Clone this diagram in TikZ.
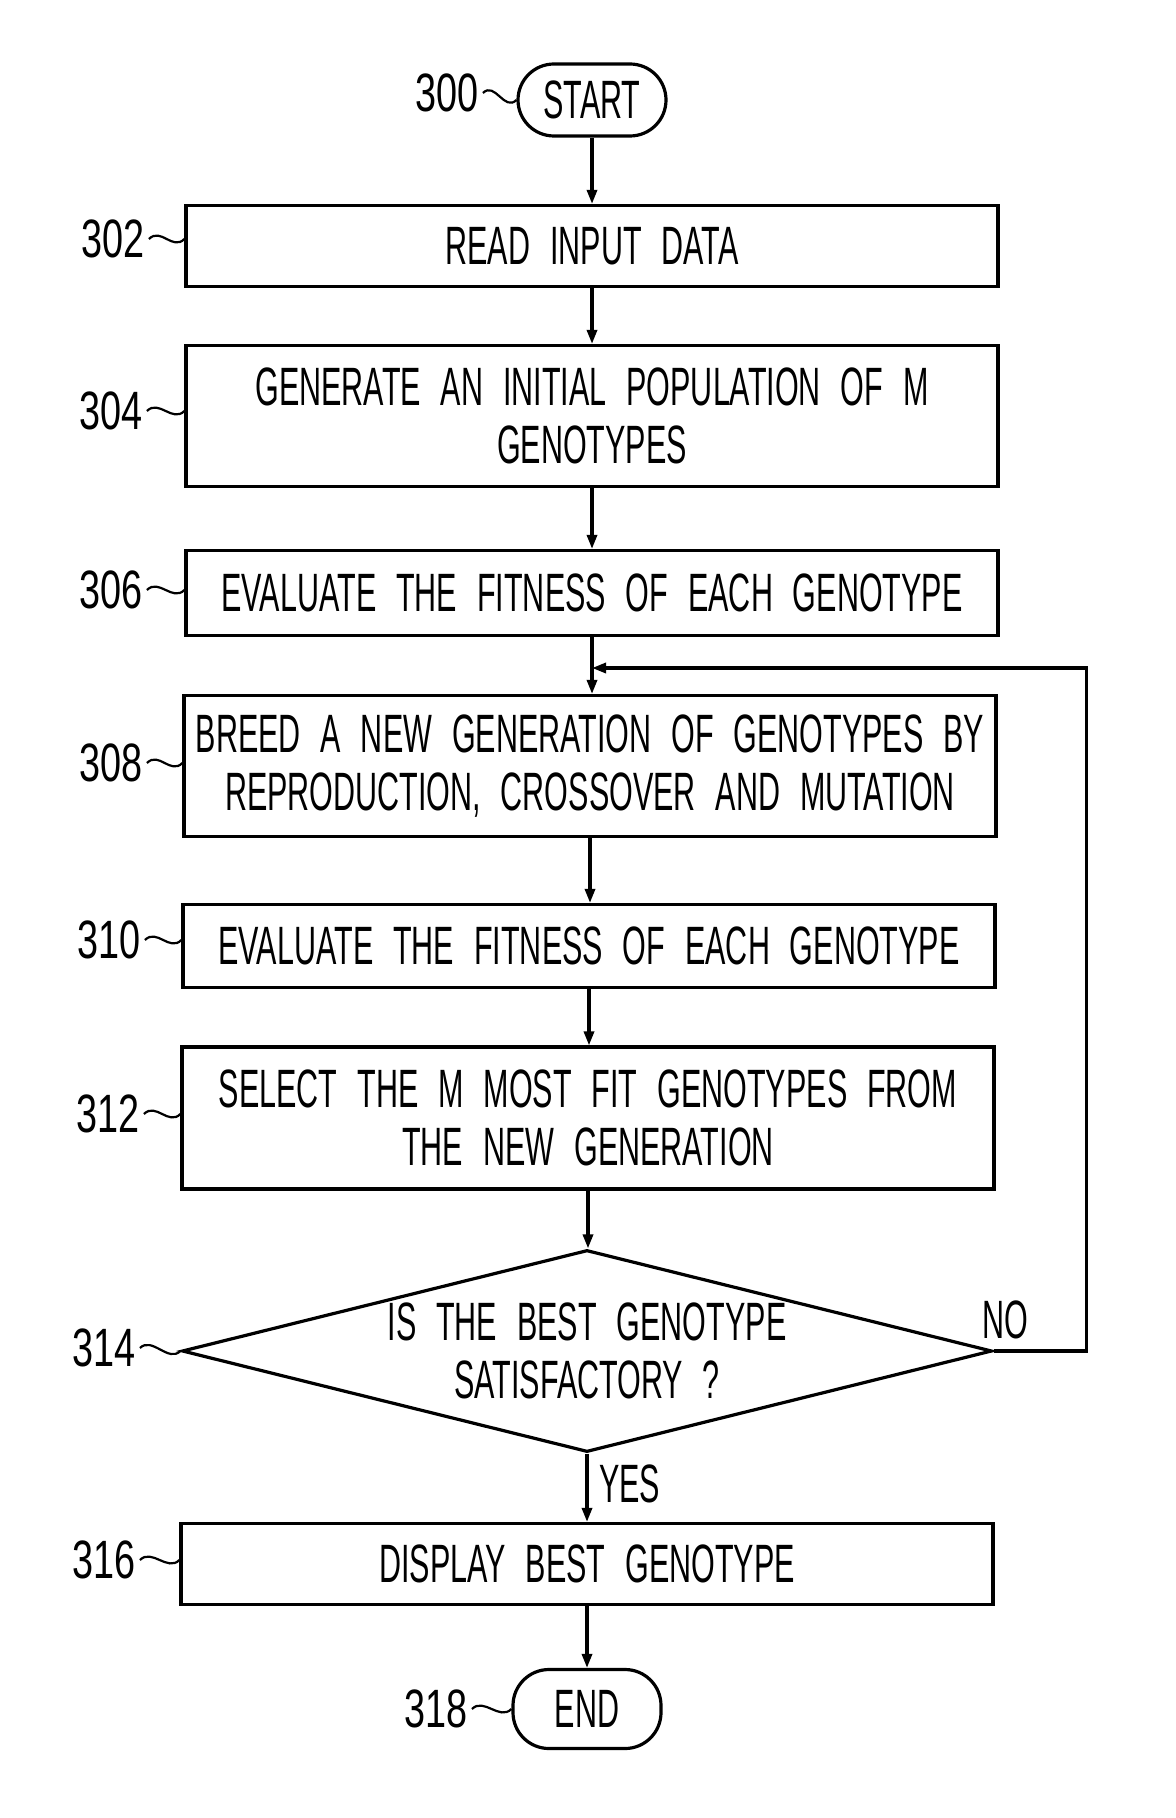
\documentclass[tikz,border=0pt]{standalone}
\usepackage{fontspec}
\setmainfont{Liberation Sans}[FakeStretch=0.565,WordSpace=2.35]
\newfontfamily\numfont{Liberation Sans}[FakeStretch=0.7]
\usetikzlibrary{shapes.geometric,arrows.meta,calc}

% squiggle from a reference number to its shape
\newcommand{\refmark}[2]{\draw[squig] (#1.east) .. controls ($(#1.east)+(12,-12)$) and ($(#2)+(-12,12)$) .. (#2);}

\begin{document}
\begin{tikzpicture}[x=0.5pt,y=-0.5pt,
    every node/.style={font=\fontsize{27}{29}\selectfont},
    box/.style={draw,line width=1.6pt,minimum width=406pt,inner sep=0pt,align=center},
    term/.style={draw,line width=1.6pt,rounded corners=18pt,minimum width=74pt,inner sep=0pt},
    dec/.style={draw,diamond,aspect=4,line width=1.6pt,minimum width=405pt,minimum height=101pt,inner sep=0pt,align=center},
    refnum/.style={inner sep=2pt,font=\fontsize{27}{29}\numfont},
    flow/.style={line width=1.6pt,-{Triangle[length=7pt,width=5pt]}},
    squig/.style={line width=1.1pt}]
  \useasboundingbox (0,0) rectangle (1175,1818);

  % steps
  \node[term,minimum height=36pt] (start) at (592,100) {START};
  \node[box,minimum height=40.5pt] (read) at (592,246) {READ INPUT DATA};
  \node[box,minimum height=70.5pt] (init) at (592,416) {GENERATE AN INITIAL POPULATION OF M\\GENOTYPES};
  \node[box,minimum height=42.5pt] (evalA) at (592,593) {EVALUATE THE FITNESS OF EACH GENOTYPE};
  \node[box,minimum height=70.5pt] (breed) at (590,766) {BREED A NEW GENERATION OF GENOTYPES BY\\REPRODUCTION, CROSSOVER AND MUTATION};
  \node[box,minimum height=41.5pt] (evalB) at (589,946) {EVALUATE THE FITNESS OF EACH GENOTYPE};
  \node[box,minimum height=71pt] (select) at (588,1118) {SELECT THE M MOST FIT GENOTYPES FROM\\THE NEW GENERATION};
  \node[dec] (test) at (587,1351) {IS THE BEST GENOTYPE\\SATISFACTORY ?};
  \node[box,minimum height=40.5pt] (show) at (587,1564) {DISPLAY BEST GENOTYPE};
  \node[term,minimum height=39.5pt] (end) at (587,1709) {END};
  \coordinate (join) at (evalA.south |- 0,668);

  % reference numbers
  \node[refnum] (l300) at (447,93) {300};
  \node[refnum] (l302) at (113,239) {302};
  \node[refnum] (l304) at (111,411) {304};
  \node[refnum] (l306) at (111,590) {306};
  \node[refnum] (l308) at (111,763) {308};
  \node[refnum] (l310) at (109,940) {310};
  \node[refnum] (l312) at (108,1114) {312};
  \node[refnum] (l314) at (104,1348) {314};
  \node[refnum] (l316) at (104,1560) {316};
  \node[refnum] (l318) at (436,1709) {318};
  \refmark{l300}{start.west}
  \refmark{l302}{l302.east -| read.west}
  \refmark{l304}{l304.east -| init.west}
  \refmark{l306}{l306.east -| evalA.west}
  \refmark{l308}{l308.east -| breed.west}
  \refmark{l310}{l310.east -| evalB.west}
  \refmark{l312}{l312.east -| select.west}
  \refmark{l314}{test.west}
  \refmark{l316}{l316.east -| show.west}
  \refmark{l318}{end.west}

  % flow lines
  \draw[flow] (start) -- (start |- read.north);
  \draw[flow] (read) -- (read |- init.north);
  \draw[flow] (init) -- (init |- evalA.north);
  \draw[flow] (evalA) -- (evalA |- breed.north);
  \draw[flow] (breed) -- (breed |- evalB.north);
  \draw[flow] (evalB) -- (evalB |- select.north);
  \draw[flow] (select) -- (select |- test.north);
  \draw[flow] (test.south) -- node[right=2pt,pos=0.45] (yes) {YES} (test.south |- show.north);
  \draw[flow] (show) -- (show |- end.north);
  \draw[flow] (test.east) -- ++(93,0) |- (join);
  \node (no) at (1005,1320) {NO};
\end{tikzpicture}
\end{document}
